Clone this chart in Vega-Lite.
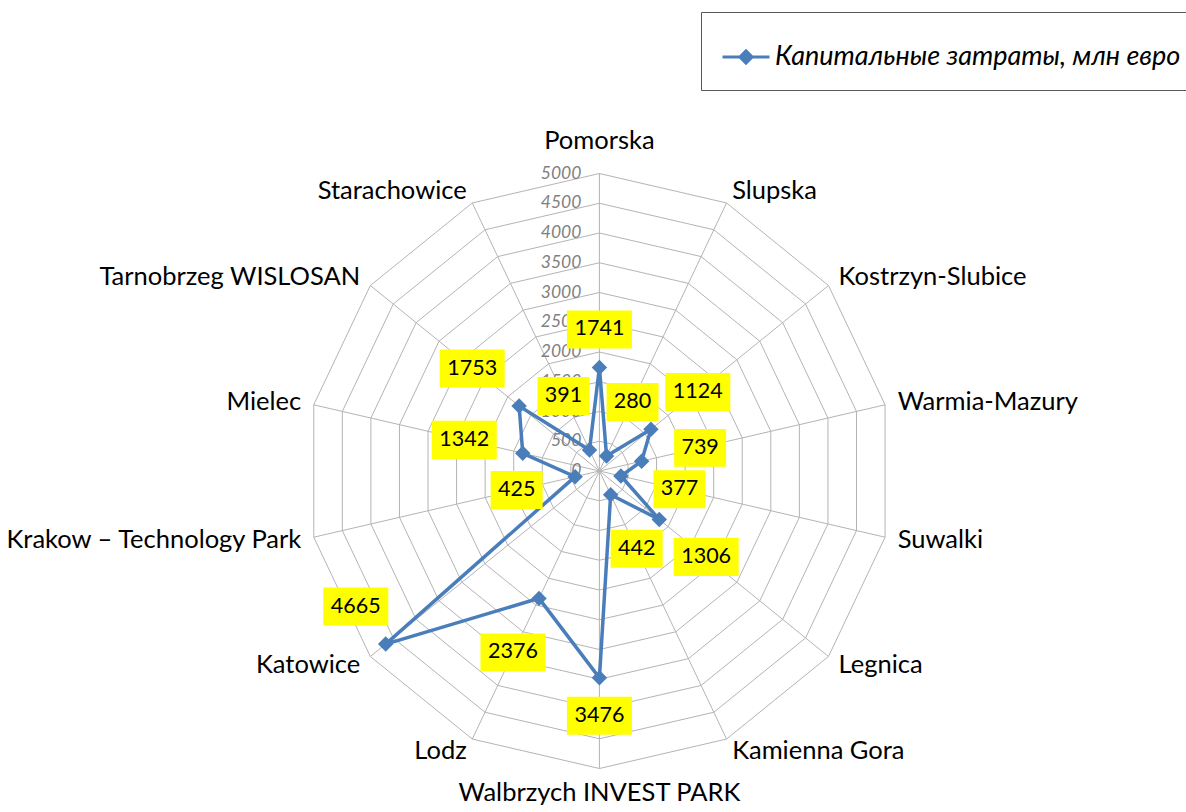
{
  "$schema": "https://vega.github.io/schema/vega-lite/v6.json",
  "width": 1186,
  "height": 812,
  "padding": 0,
  "autosize": {"type": "none"},
  "background": "white",
  "config": {"view": {"stroke": null}},
  "datasets": {
    "zones": [
      {"zone": "Pomorska", "i": 0, "value": 1741},
      {"zone": "Slupska", "i": 1, "value": 280},
      {"zone": "Kostrzyn-Slubice", "i": 2, "value": 1124},
      {"zone": "Warmia-Mazury", "i": 3, "value": 739},
      {"zone": "Suwalki", "i": 4, "value": 377},
      {"zone": "Legnica", "i": 5, "value": 1306},
      {"zone": "Kamienna Gora", "i": 6, "value": 442},
      {"zone": "Walbrzych INVEST PARK", "i": 7, "value": 3476},
      {"zone": "Lodz", "i": 8, "value": 2376},
      {"zone": "Katowice", "i": 9, "value": 4665},
      {"zone": "Krakow – Technology Park", "i": 10, "value": 425},
      {"zone": "Mielec", "i": 11, "value": 1342},
      {"zone": "Tarnobrzeg WISLOSAN", "i": 12, "value": 1753},
      {"zone": "Starachowice", "i": 13, "value": 391}
    ],
    "levels": [
      {"level": 0, "i": [0,1,2,3,4,5,6,7,8,9,10,11,12,13]},
      {"level": 500, "i": [0,1,2,3,4,5,6,7,8,9,10,11,12,13]},
      {"level": 1000, "i": [0,1,2,3,4,5,6,7,8,9,10,11,12,13]},
      {"level": 1500, "i": [0,1,2,3,4,5,6,7,8,9,10,11,12,13]},
      {"level": 2000, "i": [0,1,2,3,4,5,6,7,8,9,10,11,12,13]},
      {"level": 2500, "i": [0,1,2,3,4,5,6,7,8,9,10,11,12,13]},
      {"level": 3000, "i": [0,1,2,3,4,5,6,7,8,9,10,11,12,13]},
      {"level": 3500, "i": [0,1,2,3,4,5,6,7,8,9,10,11,12,13]},
      {"level": 4000, "i": [0,1,2,3,4,5,6,7,8,9,10,11,12,13]},
      {"level": 4500, "i": [0,1,2,3,4,5,6,7,8,9,10,11,12,13]},
      {"level": 5000, "i": [0,1,2,3,4,5,6,7,8,9,10,11,12,13]}
    ]
  },
  "layer": [
    {
      "data": {"name": "levels"},
      "transform": [
        {"filter": "datum.level > 0"},
        {"flatten": ["i"]},
        {"calculate": "datum.i * 2 * PI / 14", "as": "a"},
        {"calculate": "datum.level * sin(datum.a)", "as": "gx"},
        {"calculate": "datum.level * cos(datum.a)", "as": "gy"}
      ],
      "mark": {"type": "line", "interpolate": "linear-closed", "stroke": "#b4b4b4", "strokeWidth": 1},
      "encoding": {
        "x": {"field": "gx", "type": "quantitative", "scale": {"domain": [-10229, 10010], "nice": false, "zero": false}, "axis": null},
        "y": {"field": "gy", "type": "quantitative", "scale": {"domain": [-5731, 7916], "nice": false, "zero": false}, "axis": null},
        "detail": {"field": "level", "type": "nominal"},
        "order": {"field": "i", "type": "quantitative"}
      }
    },
    {
      "data": {"name": "zones"},
      "transform": [
        {"calculate": "datum.i * 2 * PI / 14", "as": "a"},
        {"calculate": "5000 * sin(datum.a)", "as": "ex"},
        {"calculate": "5000 * cos(datum.a)", "as": "ey"},
        {"calculate": "0", "as": "z"}
      ],
      "mark": {"type": "rule", "stroke": "#b4b4b4", "strokeWidth": 1},
      "encoding": {
        "x": {"field": "z", "type": "quantitative", "scale": {"domain": [-10229, 10010], "nice": false, "zero": false}, "axis": null},
        "y": {"field": "z", "type": "quantitative", "scale": {"domain": [-5731, 7916], "nice": false, "zero": false}, "axis": null},
        "x2": {"field": "ex"},
        "y2": {"field": "ey"}
      }
    },
    {
      "data": {"name": "levels"},
      "mark": {"type": "text", "align": "right", "baseline": "middle", "dx": -18, "font": "Lato", "fontStyle": "italic", "fontSize": 17.5, "color": "#808080"},
      "encoding": {
        "x": {"datum": 0, "type": "quantitative", "scale": {"domain": [-10229, 10010], "nice": false, "zero": false}, "axis": null},
        "y": {"field": "level", "type": "quantitative", "scale": {"domain": [-5731, 7916], "nice": false, "zero": false}, "axis": null},
        "text": {"field": "level", "type": "nominal"}
      }
    },
    {
      "data": {"name": "zones"},
      "transform": [
        {"calculate": "datum.i * 2 * PI / 14", "as": "a"},
        {"calculate": "datum.value * sin(datum.a)", "as": "px"},
        {"calculate": "datum.value * cos(datum.a)", "as": "py"}
      ],
      "layer": [
        {
          "mark": {"type": "line", "interpolate": "linear-closed", "strokeWidth": 3.5},
          "encoding": {
            "x": {"field": "px", "type": "quantitative", "scale": {"domain": [-10229, 10010], "nice": false, "zero": false}, "axis": null},
            "y": {"field": "py", "type": "quantitative", "scale": {"domain": [-5731, 7916], "nice": false, "zero": false}, "axis": null},
            "order": {"field": "i", "type": "quantitative"},
            "color": {
              "datum": "Капитальные затраты, млн евро",
              "type": "nominal",
              "scale": {"range": ["#4a7ebb"]},
              "legend": {
                "title": null,
                "orient": "none",
                "legendX": 701,
                "legendY": 12,
                "padding": 20,
                "strokeColor": "#595959",
                "fillColor": "white",
                "symbolType": "M-1,0L1,0M0,-0.26L0.26,0L0,0.26L-0.26,0Z",
                "symbolSize": 2209,
                "symbolStrokeWidth": 3,
                "symbolFillColor": "#4a7ebb",
                "symbolStrokeColor": "#4a7ebb",
                "labelFont": "Lato",
                "labelFontStyle": "italic",
                "labelFontSize": 27,
                "labelColor": "#000000",
                "labelOffset": 4,
                "labelLimit": 800
              }
            }
          }
        },
        {
          "mark": {"type": "point", "shape": "diamond", "size": 240, "filled": true, "opacity": 1, "color": "#4a7ebb"},
          "encoding": {
            "x": {"field": "px", "type": "quantitative", "scale": {"domain": [-10229, 10010], "nice": false, "zero": false}, "axis": null},
            "y": {"field": "py", "type": "quantitative", "scale": {"domain": [-5731, 7916], "nice": false, "zero": false}, "axis": null}
          }
        }
      ]
    },
    {
      "data": {"name": "zones"},
      "transform": [
        {"calculate": "datum.i * 2 * PI / 14", "as": "a"},
        {"calculate": "datum.a + (datum.value > 4000 ? PI / 2 : 0)", "as": "b"},
        {"calculate": "abs(sin(datum.b)) < 0.2 ? 38 : (datum.value > 4000 ? 48 : 60)", "as": "d"},
        {"calculate": "datum.value * sin(datum.a) + datum.d * sin(datum.b) * 17.06", "as": "lx"},
        {"calculate": "datum.value * cos(datum.a) + datum.d * cos(datum.b) * 16.81", "as": "ly"}
      ],
      "encoding": {
        "x": {"field": "lx", "type": "quantitative", "scale": {"domain": [-10229, 10010], "nice": false, "zero": false}, "axis": null},
        "y": {"field": "ly", "type": "quantitative", "scale": {"domain": [-5731, 7916], "nice": false, "zero": false}, "axis": null}
      },
      "layer": [
        {
          "mark": {"type": "point", "filled": true, "opacity": 1, "color": "#ffff00", "strokeWidth": 0},
          "encoding": {
            "shape": {"condition": {"test": "datum.value >= 1000", "value": "M-1,-0.585L1,-0.585L1,0.585L-1,0.585Z"}, "value": "M-1,-0.73L1,-0.73L1,0.73L-1,0.73Z"},
            "size": {"condition": {"test": "datum.value >= 1000", "value": 4225}, "value": 2704}
          }
        },
        {
          "mark": {"type": "text", "align": "center", "baseline": "middle", "font": "Lato", "fontSize": 21.5, "color": "#000000"},
          "encoding": {"text": {"field": "value", "type": "nominal"}}
        }
      ]
    },
    {
      "data": {"name": "zones"},
      "transform": [
        {"calculate": "datum.i * 2 * PI / 14", "as": "a"},
        {"calculate": "5220 * sin(datum.a)", "as": "cx"},
        {"calculate": "5220 * cos(datum.a)", "as": "cy"}
      ],
      "encoding": {
        "x": {"field": "cx", "type": "quantitative", "scale": {"domain": [-10229, 10010], "nice": false, "zero": false}, "axis": null},
        "y": {"field": "cy", "type": "quantitative", "scale": {"domain": [-5731, 7916], "nice": false, "zero": false}, "axis": null},
        "text": {"field": "zone", "type": "nominal"}
      },
      "layer": [
        {
          "transform": [{"filter": "datum.i >= 1 && datum.i <= 6"}],
          "mark": {"type": "text", "align": "left", "baseline": "middle", "font": "Lato", "fontSize": 25.5, "color": "#000000"}
        },
        {
          "transform": [{"filter": "datum.i >= 8"}],
          "mark": {"type": "text", "align": "right", "baseline": "middle", "font": "Lato", "fontSize": 25.5, "color": "#000000"}
        },
        {
          "transform": [{"filter": "datum.i == 0"}],
          "mark": {"type": "text", "align": "center", "baseline": "middle", "dy": -19, "font": "Lato", "fontSize": 25.5, "color": "#000000"}
        },
        {
          "transform": [{"filter": "datum.i == 7"}],
          "mark": {"type": "text", "align": "center", "baseline": "middle", "dy": 11, "font": "Lato", "fontSize": 25.5, "color": "#000000"}
        }
      ]
    }
  ]
}
